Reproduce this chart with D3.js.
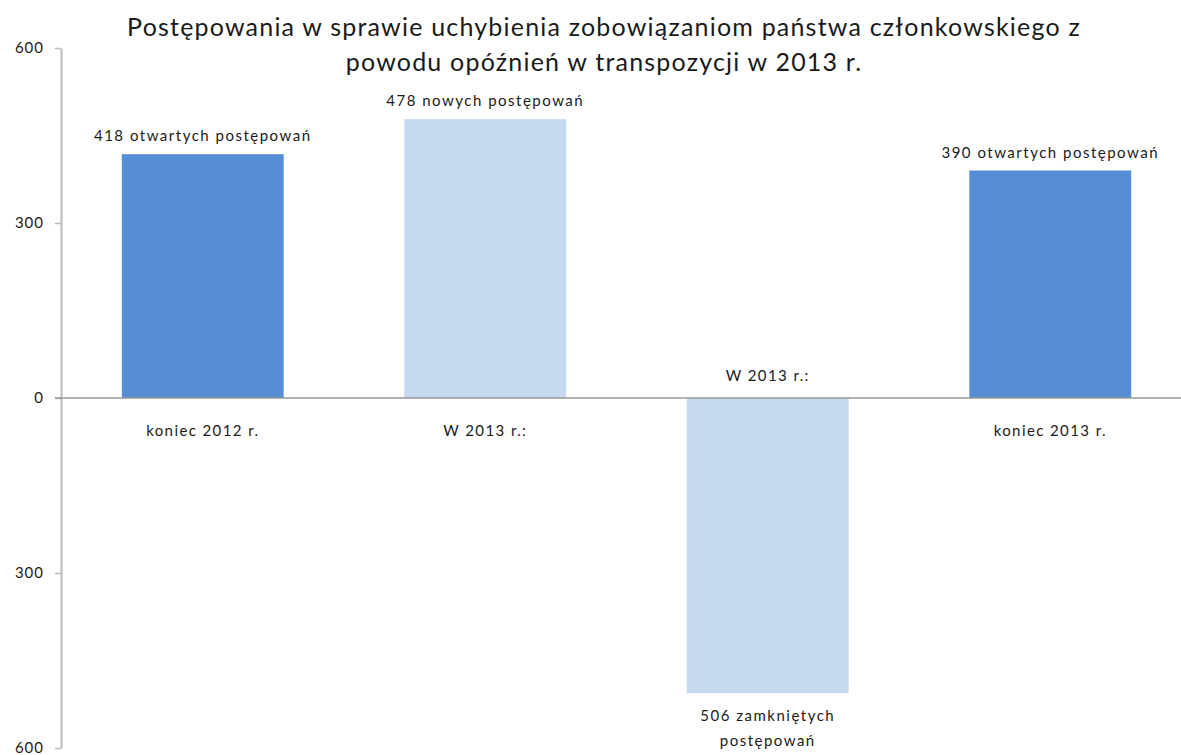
<html>
<head>
<meta charset="utf-8">
<script src="https://d3js.org/d3.v7.min.js"></script>
<style>
  body { margin: 0; background: #fff; }
  text { font-family: Lato, "Open Sans", sans-serif; fill: #1a1a1a; }
</style>
</head>
<body>
<script>
var categories = ["koniec 2012 r.", "W 2013 r.:", "W 2013 r.:", "koniec 2013 r."];
var values = [418, 478, -506, 390];
var valueLabels = [["418 otwartych postępowań"], ["478 nowych postępowań"], ["506 zamkniętych", "postępowań"], ["390 otwartych postępowań"]];
var kinds = ["stock", "flow", "flow", "stock"];
var yTicks = [-600, -300, 0, 300, 600];
var titleLines = ["Postępowania w sprawie uchybienia zobowiązaniom państwa członkowskiego z", "powodu opóźnień w transpozycji w 2013 r."];

var width = 1181, height = 755;
var svg = d3.select("body").append("svg")
    .attr("width", width)
    .attr("height", height);

var x = d3.scaleBand()
    .domain(d3.range(categories.length))
    .range([61.5, 1191.5])
    .paddingInner(0.427)
    .paddingOuter(0.2135);

var y = d3.scaleLinear()
    .domain([-600, 600])
    .range([748, 48]);

var color = { stock: "#558ED5", flow: "#C6D9F1" };

// title
svg.append("g").selectAll("text")
    .data(titleLines).enter()
    .append("text")
    .attr("x", 604)
    .attr("y", (d, i) => 36 + i * 35)
    .attr("text-anchor", "middle")
    .attr("font-size", 25)
    .attr("letter-spacing", 1.2)
    .text(d => d);

// bars
svg.append("g").selectAll("rect")
    .data(values).enter()
    .append("rect")
    .attr("x", (d, i) => x(i))
    .attr("width", x.bandwidth())
    .attr("y", d => y(Math.max(0, d)))
    .attr("height", d => Math.abs(y(d) - y(0)))
    .attr("fill", (d, i) => color[kinds[i]]);

// y axis
var yAxis = d3.axisLeft(y)
    .tickValues(yTicks)
    .tickSize(6)
    .tickSizeOuter(0)
    .tickFormat(d => Math.abs(d));

svg.append("g")
    .attr("transform", "translate(61,0)")
    .call(yAxis)
    .call(g => g.select(".domain").attr("stroke", "#bbbbbb").attr("stroke-width", 2))
    .call(g => g.selectAll(".tick line").attr("stroke", "#bbbbbb").attr("stroke-width", 1.5))
    .call(g => g.selectAll(".tick text")
        .attr("x", -17)
        .attr("font-size", 15)
        .attr("letter-spacing", 1)
        .attr("font-family", "Lato, sans-serif")
        .attr("fill", "#1a1a1a"));

// zero line
svg.append("line")
    .attr("x1", 55).attr("x2", width)
    .attr("y1", y(0)).attr("y2", y(0))
    .attr("stroke", "#999999")
    .attr("stroke-width", 1.5);

// category labels
svg.append("g").selectAll("text")
    .data(categories).enter()
    .append("text")
    .attr("x", (d, i) => x(i) + x.bandwidth() / 2)
    .attr("y", (d, i) => values[i] < 0 ? y(0) - 17 : y(0) + 38)
    .attr("text-anchor", "middle")
    .attr("font-size", 15)
    .attr("letter-spacing", 1.4)
    .text(d => d);

// value labels
var lbl = svg.append("g").selectAll("text")
    .data(values).enter()
    .append("text")
    .attr("x", (d, i) => x(i) + x.bandwidth() / 2)
    .attr("y", (d, i) => d < 0 ? y(d) + 28 : y(d) - 13)
    .attr("text-anchor", "middle")
    .attr("font-size", 15)
    .attr("letter-spacing", 1.5);

lbl.each(function(d, i) {
    var t = d3.select(this);
    valueLabels[i].forEach(function(line, j) {
        t.append("tspan")
            .attr("x", x(i) + x.bandwidth() / 2)
            .attr("dy", j === 0 ? 0 : 25)
            .text(line);
    });
});
</script>
</body>
</html>
